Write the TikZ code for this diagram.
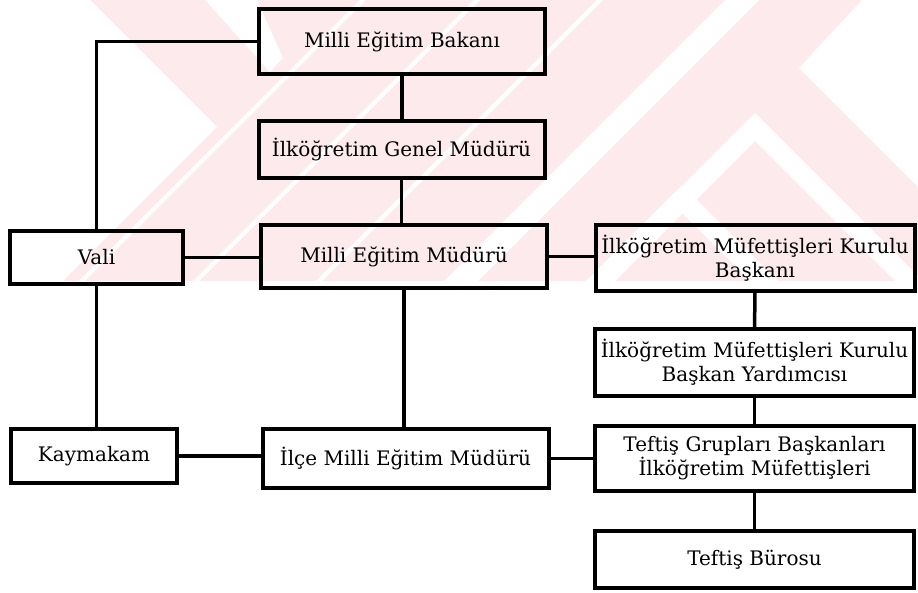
\documentclass[tikz,border=0pt]{standalone}
\usepackage{fontspec}
\setmainfont{DejaVu Serif}
\usetikzlibrary{positioning,calc}
\definecolor{markpink}{RGB}{253,234,237}
\tikzset{
  % boxes of the chart
  block/.style={draw, rectangle, line width=4pt, inner sep=0pt, align=center,
  font=\fontsize{20}{24}\selectfont},
  wide/.style={block, minimum width=286pt},
  long/.style={block, minimum width=319pt},
  link/.style={line width=3.5pt}}

\begin{document}
\begin{tikzpicture}[x=1pt,y=-1pt]
\useasboundingbox (0,0) rectangle (918,593);

% faint mark behind the chart
\begin{scope}
\clip (0,0) rectangle (918,281);
\fill [markpink] (0,0) rectangle (918,281);
\fill [white] (0,0) -- (90,0) -- (217,127) -- (63,281) -- (0,281) -- cycle;
\fill [white] (205,0) -- (257,0) -- (283,58) -- (270,72) -- cycle;
\fill [white] (725,0) -- (759,0) -- (478,281) -- (444,281) -- cycle;
\foreach \s in {363,477,600}
  \fill [white] (\s-3,0) -- (\s+3,0) -- (\s+3-281,281) -- (\s-3-281,281) -- cycle;
\fill [white] (755,113) -- (587,281) -- (615,281) -- (755,141) -- (895,281) -- (923,281) -- cycle;
\fill [white] (682,185) -- (586,281) -- (614,281) -- (682,213) -- (750,281) -- (778,281) -- cycle;
\fill [white] (862,0) -- (918,0) -- (918,187) -- (799,68) -- cycle;
\end{scope}

\draw (402,41.5) node (bakan) [wide, minimum height=65pt] {Milli Eğitim Bakanı};
\draw (401.5,149.5) node (genel) [wide, minimum height=57pt] {İlköğretim Genel Müdürü};
\draw (404,256.5) node (mem) [wide, minimum height=63pt] {Milli Eğitim Müdürü};
\draw (96.5,257.5) node (vali) [block, minimum width=173pt, minimum height=53pt] {Vali};
\draw (755,258) node (kurul) [long, minimum height=66pt] {İlköğretim Müfettişleri Kurulu\\Başkanı};

\draw (94,456) node (kaym) [block, minimum width=166pt, minimum height=54pt] {Kaymakam};
\draw (405.5,458.5) node (ilce) [wide, minimum height=59pt] {İlçe Milli Eğitim Müdürü};
\draw (754.5,362.5) node (yard) [long, minimum height=67pt] {İlköğretim Müfettişleri Kurulu\\Başkan Yardımcısı};
\draw (754.5,458.5) node (grup) [long, minimum height=65pt] {Teftiş Grupları Başkanları\\İlköğretim Müfettişleri};
\draw (754.5,559.5) node (buro) [long, minimum height=57pt] {Teftiş Bürosu};

% vertical links
\draw [link] (bakan.south) -- (bakan.south |- genel.north);
\draw [link] (genel.south) -- (genel.south |- mem.north);
\draw [link] (mem.south) -- (mem.south |- ilce.north);
\draw [link] (bakan.west) -| (vali.north);
\draw [link] (vali.south) -- (vali.south |- kaym.north);
\draw [link] (kurul) -- (yard);
\draw [link] (yard) -- (grup);
\draw [link] (grup) -- (buro);

% horizontal links
\draw [link] (vali.east) -- (vali.east -| mem.west);
\draw [link] (mem.east) -- (mem.east -| kurul.west);
\draw [link] (kaym.east) -- (kaym.east -| ilce.west);
\draw [link] (ilce.east) -- (ilce.east -| grup.west);

\end{tikzpicture}
\end{document}
